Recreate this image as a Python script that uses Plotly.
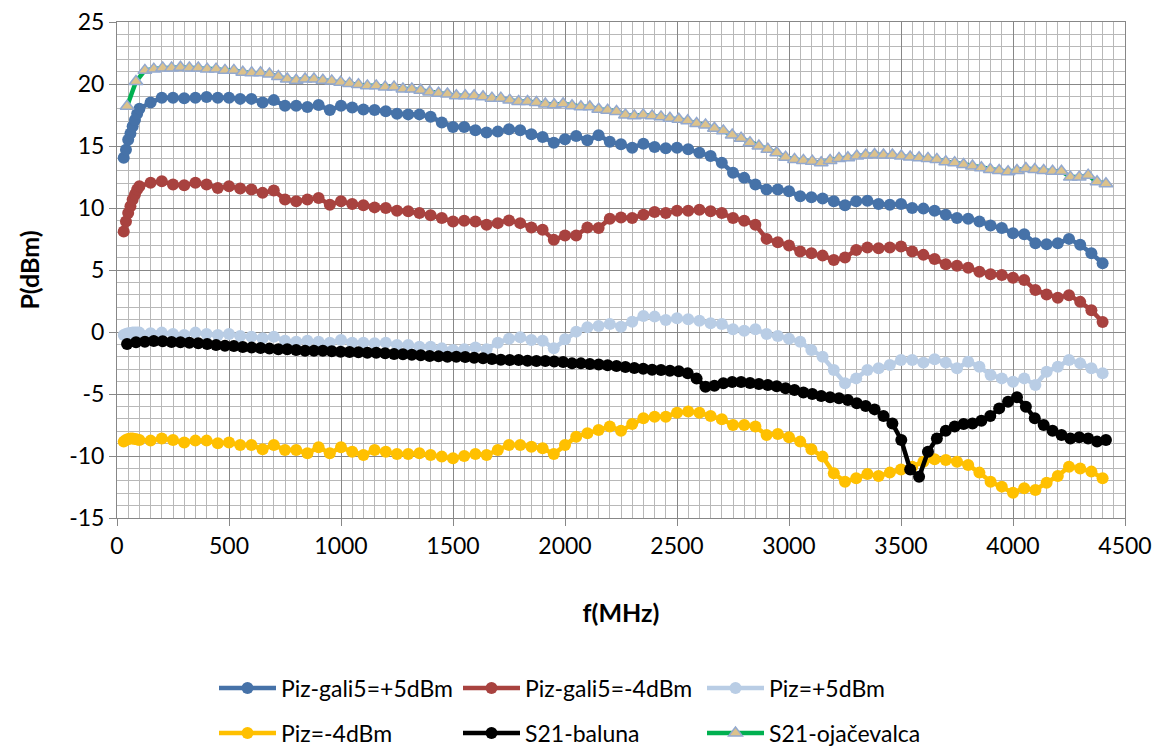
import numpy as np
import plotly.graph_objects as go

# Signal-generator sweep (MHz): fine steps at the low end, then 50 MHz steps
f_piz = [30, 40, 50, 60, 70, 80, 90, 100] + list(range(150, 4401, 50))
# Network-analyser sweep (MHz): 111 points from 45 to 4415 MHz
f_s21 = np.linspace(45, 4415, 111)

piz_gali5_p5 = [
    14.05, 14.7, 15.5, 16.0, 16.6, 17.1, 17.6, 18.0,
    18.5, 18.9, 18.9, 18.85, 18.9, 18.95, 18.9, 18.9, 18.8, 18.8, 18.5, 18.7,
    18.25, 18.25, 18.15, 18.3, 17.9, 18.25, 18.1, 17.95, 17.9, 17.8, 17.6, 17.55,
    17.55, 17.35, 16.9,
    16.54, 16.54, 16.27, 16.08, 16.16, 16.35, 16.27, 15.95, 15.73, 15.27, 15.54,
    15.81, 15.46, 15.86, 15.35, 15.14, 14.86, 15.19, 14.92, 14.81, 14.86, 14.73,
    14.46, 14.19, 13.65, 12.84, 12.43, 11.89, 11.49, 11.49, 11.35, 10.95, 10.86,
    10.76, 10.54, 10.22, 10.54, 10.59, 10.32, 10.27, 10.32, 10.0, 9.95, 9.78,
    9.46, 9.19, 9.14, 8.92, 8.59, 8.38, 7.97, 7.89, 7.16, 7.08, 7.16, 7.51,
    7.03, 6.35, 5.54,
]

piz_gali5_m4 = [
    8.11, 8.92, 9.59, 10.14, 10.68, 11.08, 11.49, 11.76,
    12.03, 12.16, 11.89, 11.84, 12.03, 11.89, 11.62, 11.76, 11.57, 11.49, 11.22,
    11.41, 10.68, 10.54, 10.68, 10.81, 10.27, 10.54, 10.32, 10.22, 10.05, 10.0,
    9.78, 9.73, 9.59, 9.41, 9.19,
    8.92, 8.97, 8.92, 8.65, 8.78, 9.0, 8.78, 8.43, 8.24, 7.43, 7.78, 7.78, 8.43,
    8.38, 9.14, 9.24, 9.19, 9.46, 9.68, 9.59, 9.78, 9.78, 9.86, 9.73, 9.59, 9.19,
    8.97, 8.65, 7.51, 7.24, 6.97, 6.49, 6.35, 6.16, 5.81, 6.0, 6.62, 6.81, 6.76,
    6.81, 6.89, 6.49, 6.22, 5.89, 5.46, 5.35, 5.19, 4.86, 4.65, 4.59, 4.38, 4.19,
    3.38, 3.03, 2.76, 2.97, 2.43, 1.76, 0.81,
]

piz_p5 = [
    -0.24, -0.16, -0.11, -0.08, -0.05, -0.05, -0.05, -0.05,
    -0.11, -0.05, -0.16, -0.24, -0.05, -0.16, -0.24, -0.16, -0.32, -0.38, -0.51,
    -0.38, -0.70, -0.78, -0.70, -0.78, -0.86, -0.65, -0.86, -0.86, -0.91, -0.86,
    -1.05, -1.05, -1.18, -1.18, -1.32,
    -1.45, -1.40, -1.24, -1.40, -0.86, -0.54, -0.43, -0.65, -0.70, -1.32, -0.59,
    0.03, 0.38, 0.48, 0.65, 0.43, 0.83, 1.29, 1.24, 0.97, 1.10, 1.02, 0.91, 0.70,
    0.65, 0.22, 0.11, 0.22, -0.16, -0.32, -0.55, -0.78, -1.45, -1.99, -3.06,
    -4.14, -3.74, -3.06, -2.93, -2.66, -2.26, -2.26, -2.47, -2.2, -2.47, -2.93,
    -2.39, -2.8, -3.47, -3.74, -4.01, -3.74, -4.27, -3.2, -2.8, -2.26, -2.53,
    -2.93, -3.33,
]

piz_m4 = [
    -8.84, -8.71, -8.63, -8.58, -8.58, -8.63, -8.66, -8.71,
    -8.76, -8.58, -8.71, -8.92, -8.76, -8.76, -8.98, -8.92, -9.11, -9.11, -9.46,
    -9.11, -9.52, -9.52, -9.78, -9.30, -9.78, -9.30, -9.65, -9.92, -9.52, -9.65,
    -9.84, -9.84, -9.78, -9.92, -10.05,
    -10.19, -10.0, -9.84, -9.92, -9.52, -9.11, -9.11, -9.25, -9.38, -9.84, -9.11,
    -8.44, -8.17, -7.90, -7.63, -7.96, -7.42, -6.96, -6.83, -6.83, -6.51, -6.42,
    -6.51, -6.77, -7.04, -7.5, -7.5, -7.63, -8.31, -8.23, -8.49, -8.84, -9.46,
    -10.05, -11.4, -12.07, -11.8, -11.45, -11.61, -11.34, -11.08, -10.86, -10.46,
    -10.27, -10.32, -10.46, -10.73, -11.34, -12.07, -12.47, -12.96, -12.61,
    -12.74, -12.15, -11.61, -10.86, -11.0, -11.26, -11.8,
]

s21_baluna = [
    -0.97, -0.83, -0.78, -0.73, -0.75, -0.81, -0.83, -0.86, -0.91, -0.97, -1.05,
    -1.10, -1.13, -1.21, -1.26, -1.29, -1.34, -1.40, -1.40, -1.45, -1.51, -1.51,
    -1.51, -1.56, -1.59, -1.61, -1.64, -1.67, -1.67, -1.72, -1.77, -1.80, -1.83,
    -1.88, -1.94, -1.96, -1.99,
    -1.99, -2.02, -2.07, -2.12, -2.18, -2.23, -2.26, -2.26, -2.31, -2.34, -2.34,
    -2.37, -2.42, -2.53, -2.53, -2.58, -2.63, -2.69, -2.74, -2.82, -2.9, -2.96,
    -3.04, -3.06, -3.12, -3.17, -3.33, -3.76, -4.41, -4.33, -4.14, -4.03, -4.03,
    -4.11, -4.19, -4.27, -4.38,
    -4.54, -4.68, -4.87, -5.0, -5.16, -5.27, -5.35, -5.48, -5.75, -5.97, -6.24,
    -6.77, -7.37, -8.71, -11.08, -11.67, -9.65, -8.58, -7.96, -7.63, -7.42,
    -7.37, -7.15, -6.77, -6.16, -5.62, -5.27, -6.02, -6.96, -7.5, -7.96, -8.31,
    -8.58, -8.49, -8.58, -8.84, -8.71,
]

s21_ojacevalca = [
    18.2, 20.2, 21.1, 21.2, 21.3, 21.3, 21.35, 21.3, 21.3, 21.2, 21.2, 21.1,
    21.1, 20.95, 20.9, 20.9, 20.8, 20.6, 20.4, 20.3, 20.4, 20.4, 20.3, 20.25,
    20.15, 20.05, 19.95, 19.85, 19.85, 19.75, 19.75, 19.6, 19.6, 19.5, 19.35,
    19.25, 19.2,
    19.05, 19.05, 19.05, 18.97, 18.86, 18.86, 18.7, 18.59, 18.59, 18.51, 18.38,
    18.32, 18.4, 18.24, 18.16, 18.16, 17.97, 17.89, 17.78, 17.51, 17.43, 17.51,
    17.43, 17.35, 17.24, 17.16, 17.03, 16.81, 16.7, 16.43, 16.22, 15.89, 15.62,
    15.27, 15.0, 14.73, 14.46, 14.1,
    13.92, 13.84, 13.78, 13.65, 13.84, 14.0, 14.05, 14.19, 14.27, 14.32, 14.27,
    14.27, 14.19, 14.11, 14.05, 14.0, 13.92, 13.73, 13.65, 13.51, 13.38, 13.24,
    13.11, 13.03, 12.92, 13.03, 13.19, 13.11, 13.03, 12.97, 12.97, 12.49, 12.49,
    12.65, 12.11, 11.95,
]

y_ticks = [-15, -10, -5, 0, 5, 10, 15, 20, 25]
x_ticks = [0, 500, 1000, 1500, 2000, 2500, 3000, 3500, 4000, 4500]

FONT = "Lato"
GRID_MAJOR = "#878787"
GRID_MINOR = "#B8B8B8"

series = [
    ("Piz-gali5=+5dBm", f_piz, piz_gali5_p5, "#4672A8", "circle", None),
    ("Piz-gali5=-4dBm", f_piz, piz_gali5_m4, "#A8423F", "circle", None),
    ("Piz=+5dBm", f_piz, piz_p5, "#B9CDE5", "circle", None),
    ("Piz=-4dBm", f_piz, piz_m4, "#FFC000", "circle", None),
    ("S21-baluna", f_s21, s21_baluna, "#000000", "circle", None),
    ("S21-ojačevalca", f_s21, s21_ojacevalca, "#00B050", "triangle-up", "#DCC28C"),
]

# legend slots: (left x in px, centre y in px) of each entry, three columns
legend_slots = [(214, 688), (458, 688), (702, 688), (214, 733), (458, 733), (702, 733)]
PLOT_L, PLOT_R, PLOT_T, PLOT_B = 117, 1125, 22, 518

fig = go.Figure()
layout_legends = {}
for i, (name, xs, ys, color, symbol, fill) in enumerate(series):
    key = "legend" if i == 0 else f"legend{i + 1}"
    if symbol == "triangle-up":
        marker = dict(symbol=symbol, size=12, color=fill,
                      line=dict(color="#93A9CF", width=1.5))
    else:
        marker = dict(symbol=symbol, size=12, color=color, line=dict(width=0))
    fig.add_trace(go.Scatter(
        x=xs, y=ys, name=name, mode="lines+markers",
        line=dict(color=color, width=4.5),
        marker=marker, legend=key,
    ))
    px, py = legend_slots[i]
    layout_legends[key] = dict(
        x=(px - PLOT_L) / (PLOT_R - PLOT_L),
        y=(PLOT_B - py) / (PLOT_B - PLOT_T),
        xanchor="left", yanchor="middle",
        orientation="v", bgcolor="rgba(0,0,0,0)",
        font=dict(family=FONT, size=23, color="#000000"),
        itemwidth=57,
    )

fig.update_layout(
    width=1154, height=747,
    margin=dict(l=PLOT_L, r=1154 - PLOT_R, t=PLOT_T, b=747 - PLOT_B,
                autoexpand=False),
    paper_bgcolor="white", plot_bgcolor="white",
    font=dict(family=FONT, size=23, color="#000000"),
    showlegend=True,
    **layout_legends,
)

fig.update_xaxes(
    range=[0, 4500], tickmode="array", tickvals=x_ticks,
    ticktext=[str(v) for v in x_ticks],
    showgrid=True, gridcolor=GRID_MAJOR, gridwidth=1,
    minor=dict(dtick=50, tick0=0, showgrid=True, gridcolor=GRID_MINOR, gridwidth=1),
    showline=True, linecolor=GRID_MAJOR, linewidth=1, mirror=True,
    ticks="outside", ticklen=7, tickcolor=GRID_MAJOR,
    zeroline=False,
    tickfont=dict(family=FONT, size=23),
    title=dict(text="<b>f(MHz)</b>", font=dict(family=FONT, size=25), standoff=46),
)
fig.update_yaxes(
    range=[-15, 25], tickmode="array", tickvals=y_ticks,
    ticktext=[str(v) for v in y_ticks],
    showgrid=True, gridcolor=GRID_MAJOR, gridwidth=1,
    minor=dict(dtick=1, tick0=0, showgrid=True, gridcolor=GRID_MINOR, gridwidth=1),
    showline=True, linecolor=GRID_MAJOR, linewidth=1, mirror=True,
    ticks="outside", ticklen=7, tickcolor=GRID_MAJOR,
    zeroline=False,
    tickfont=dict(family=FONT, size=23),
    title=dict(text="<b>P(dBm)</b>", font=dict(family=FONT, size=25), standoff=22),
)

fig.write_html("out.html")
